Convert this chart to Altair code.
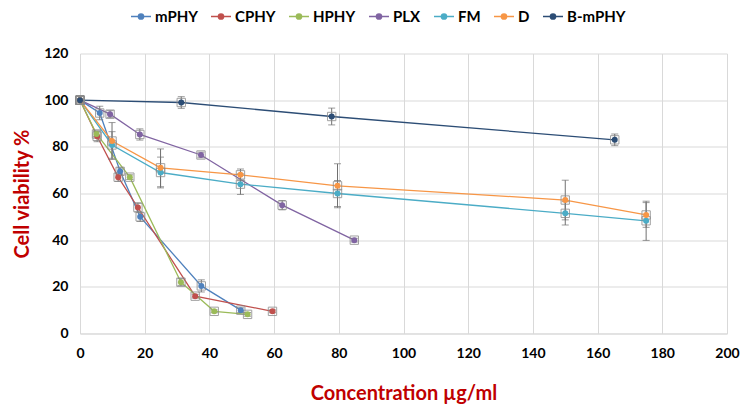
import altair as alt
import pandas as pd

series = ["mPHY", "CPHY", "HPHY", "PLX", "FM", "D", "B-mPHY"]
colors = ["#4F81BD", "#C0504D", "#9BBB59", "#8064A2", "#4BACC6", "#F79646", "#2C4D75"]

mphy_x = [0, 6.1, 12.4, 18.6, 37.5, 49.7]
mphy_y = [100, 94.5, 69.5, 50, 20.4, 10]
mphy_e = [0, 2.9, 1.5, 2.0, 2.6, 1.0]

cphy_x = [0, 5.3, 11.8, 17.9, 35.6, 59.5]
cphy_y = [100, 84.5, 67, 54, 16, 9.5]
cphy_e = [0, 2.3, 1.8, 2.0, 0.8, 0.6]

hphy_x = [0, 5.1, 15.4, 31.2, 41.5, 51.8]
hphy_y = [100, 85.5, 67, 22, 9.5, 8.2]
hphy_e = [0, 1.2, 1.0, 1.5, 0.6, 0.8]

plx_x = [0, 9.3, 18.5, 37.4, 62.5, 84.8]
plx_y = [100, 94, 85.3, 76.5, 55, 40]
plx_e = [0, 1.5, 2.4, 1.2, 2.0, 0.8]

fm_x = [0, 9.9, 24.9, 49.6, 79.6, 150, 175]
fm_y = [100, 80.8, 69, 64, 60, 51.5, 48.3]
fm_e = [0, 5.7, 6.6, 4.4, 5.6, 5.0, 8.4]

d_x = [0, 9.9, 24.9, 49.6, 79.6, 150, 175]
d_y = [100, 82.5, 71, 68, 63.3, 57.2, 50.8]
d_e = [0, 7.9, 8.1, 2.5, 9.4, 8.5, 5.3]

bm_x = [0, 31.3, 77.8, 165.3]
bm_y = [100, 99, 93, 83]
bm_e = [0, 2.5, 3.6, 2.5]

x_ticks = list(range(0, 201, 20))
y_ticks = list(range(0, 121, 20))

all_data = {
    "mPHY": (mphy_x, mphy_y, mphy_e),
    "CPHY": (cphy_x, cphy_y, cphy_e),
    "HPHY": (hphy_x, hphy_y, hphy_e),
    "PLX": (plx_x, plx_y, plx_e),
    "FM": (fm_x, fm_y, fm_e),
    "D": (d_x, d_y, d_e),
    "B-mPHY": (bm_x, bm_y, bm_e),
}

rows = []
for s in series:
    xs, ys, es = all_data[s]
    for i, (xv, yv, ev) in enumerate(zip(xs, ys, es)):
        rows.append({"series": s, "idx": i, "conc": xv, "via": yv,
                     "lo": yv - ev, "hi": yv + ev, "err": ev})
df = pd.DataFrame(rows)
df_err = df[df["err"] > 0]

FONT = "Lato"
xsc = alt.Scale(domain=[0, 200], nice=False, zero=False)
ysc = alt.Scale(domain=[0, 120], nice=False)
csc = alt.Scale(domain=series, range=colors)

sym = "M-1,0L1,0M-0.26,0A0.26,0.26,0,1,1,0.26,0A0.26,0.26,0,1,1,-0.26,0Z"

x_enc = alt.X("conc:Q", scale=xsc, title="Concentration µg/ml",
              axis=alt.Axis(values=x_ticks, labelPadding=13, titlePadding=23,
                            labelFlush=False, titleFontSize=20))
y_enc = alt.Y("via:Q", scale=ysc, title="Cell viability %",
              axis=alt.Axis(values=y_ticks, labelPadding=12, titlePadding=11,
                            titleFontSize=20))
color_enc = alt.Color("series:N", scale=csc, sort=series,
                      legend=alt.Legend(title=None, orient="none", direction="horizontal",
                                        legendX=50, legendY=-48, symbolType=sym,
                                        symbolSize=400, symbolStrokeWidth=1.5,
                                        labelFont=FONT, labelFontSize=15,
                                        labelFontWeight="bold", labelColor="#000000",
                                        labelOffset=3, columnPadding=10, padding=0))

base = alt.Chart(df)

lines = base.mark_line(strokeWidth=1.3).encode(
    x=x_enc, y=y_enc, color=color_enc, order=alt.Order("idx:Q"))

err_rule = alt.Chart(df_err).mark_rule(color="#707070", strokeWidth=1).encode(
    x="conc:Q", y="lo:Q", y2="hi:Q")
err_top = alt.Chart(df_err).mark_tick(color="#707070", orient="horizontal", size=7,
                                      thickness=1).encode(x="conc:Q", y="hi:Q")
err_bot = alt.Chart(df_err).mark_tick(color="#707070", orient="horizontal", size=7,
                                      thickness=1).encode(x="conc:Q", y="lo:Q")

squares = base.mark_square(filled=False, color="#8a8a8a", size=70, strokeWidth=1,
                           opacity=0.8).encode(x="conc:Q", y="via:Q")
points = base.mark_circle(size=36, opacity=1).encode(
    x="conc:Q", y="via:Q", color=color_enc)

chart = alt.layer(lines, err_rule, err_top, err_bot, squares, points).properties(
    width=647, height=280,
    autosize=alt.AutoSizeParams(type="none"),
    padding={"left": 72, "top": 45.5, "right": 14, "bottom": 71.5},
    background="white",
).configure_axis(
    labelFont=FONT, labelFontSize=14, labelFontWeight="bold", labelColor="#000000",
    titleFont=FONT, titleFontWeight="bold", titleColor="#C00000",
    gridColor="#D9D9D9", gridWidth=1, tickSize=0, domain=False,
).configure_axisX(
    domain=True, domainColor="#D9D9D9",
).configure_view(stroke=None)

chart.save("out.html", embed_options={"renderer": "svg", "actions": False})
